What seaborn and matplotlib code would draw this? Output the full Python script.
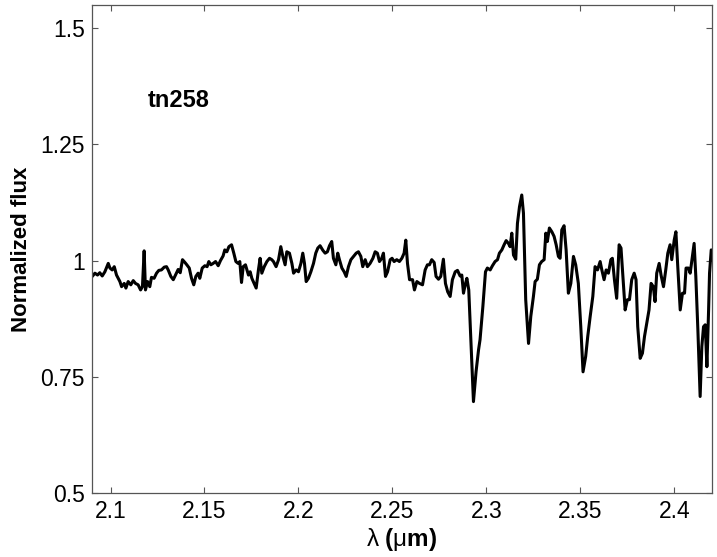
import matplotlib
matplotlib.use("Agg")
import matplotlib.pyplot as plt
import seaborn as sns
import pandas as pd

# ---- data ----
wl_a = [2.0903, 2.0917, 2.0931, 2.0943, 2.0956, 2.0970, 2.0988, 2.0997, 2.1009, 2.1020,
        2.1032, 2.1050, 2.1059, 2.1073, 2.1082, 2.1094, 2.1108, 2.1121, 2.1133, 2.1147,
        2.1160, 2.1170, 2.1179, 2.1186, 2.1197, 2.1209, 2.1218, 2.1232, 2.1245, 2.1257,
        2.1271, 2.1286, 2.1298, 2.1307, 2.1321, 2.1334, 2.1346, 2.1360, 2.1371, 2.1383,
        2.1396, 2.1406, 2.1419, 2.1431, 2.1443, 2.1454, 2.1466, 2.1475, 2.1488, 2.1502,
        2.1514, 2.1523, 2.1534, 2.1546, 2.1559, 2.1573, 2.1585, 2.1599, 2.1608, 2.1619,
        2.1630, 2.1644, 2.1656, 2.1667, 2.1679, 2.1688, 2.1697, 2.1706, 2.1718, 2.1729]
flux_a = [0.966, 0.973, 0.969, 0.974, 0.967, 0.976, 0.994, 0.984, 0.980, 0.987,
          0.969, 0.955, 0.944, 0.951, 0.941, 0.955, 0.948, 0.957, 0.951, 0.948,
          0.937, 0.944, 1.021, 0.937, 0.955, 0.944, 0.964, 0.962, 0.973, 0.979,
          0.980, 0.986, 0.987, 0.980, 0.966, 0.959, 0.969, 0.981, 0.974, 1.002,
          0.996, 0.991, 0.984, 0.962, 0.948, 0.966, 0.973, 0.962, 0.984, 0.989,
          0.987, 0.998, 0.991, 0.994, 0.998, 0.989, 1.000, 1.010, 1.023, 1.019,
          1.030, 1.034, 1.016, 0.998, 0.994, 0.998, 0.953, 0.987, 0.991, 0.976]

wl_b = [2.1734, 2.1743, 2.1752, 2.1764, 2.1775, 2.1787, 2.1796, 2.1805, 2.1818, 2.1832,
        2.1846, 2.1858, 2.1867, 2.1881, 2.1894, 2.1906, 2.1917, 2.1929, 2.1938, 2.1952,
        2.1965, 2.1974, 2.1988, 2.2000, 2.2013, 2.2023, 2.2032, 2.2041, 2.2053, 2.2066,
        2.2080, 2.2092, 2.2103, 2.2115, 2.2130, 2.2142, 2.2154, 2.2165, 2.2177, 2.2186,
        2.2199, 2.2209, 2.2218, 2.2231, 2.2243, 2.2254, 2.2266, 2.2279, 2.2293, 2.2307,
        2.2319, 2.2332, 2.2342, 2.2355, 2.2367, 2.2381, 2.2396, 2.2408, 2.2420, 2.2431,
        2.2443, 2.2452, 2.2463, 2.2474, 2.2488, 2.2498, 2.2509, 2.2523, 2.2537, 2.2550,
        2.2562, 2.2571, 2.2580, 2.2591]
flux_b = [0.969, 0.976, 0.962, 0.951, 0.941, 0.980, 1.005, 0.973, 0.987, 0.998,
          1.005, 1.002, 0.998, 0.987, 1.002, 1.030, 1.009, 0.991, 1.019, 1.016,
          0.994, 0.973, 0.980, 0.976, 0.994, 1.016, 0.994, 0.955, 0.962, 0.976,
          0.994, 1.016, 1.027, 1.032, 1.022, 1.016, 1.019, 1.032, 1.041, 1.005,
          0.991, 1.016, 1.002, 0.984, 0.976, 0.966, 0.987, 1.002, 1.009, 1.016,
          1.019, 1.009, 0.987, 1.002, 0.987, 0.994, 1.005, 1.019, 1.016, 0.998,
          1.005, 1.016, 0.966, 0.976, 1.002, 1.005, 0.998, 1.002, 0.998, 1.005,
          1.016, 1.044, 0.994, 0.959]

wl_c = [2.2607, 2.2617, 2.2630, 2.2644, 2.2660, 2.2674, 2.2686, 2.2697, 2.2709, 2.2722,
        2.2732, 2.2745, 2.2757, 2.2771, 2.2782, 2.2794, 2.2807, 2.2819, 2.2834, 2.2846,
        2.2860, 2.2869, 2.2878, 2.2887, 2.2896, 2.2906, 2.2919, 2.2931, 2.2945, 2.2958,
        2.2966, 2.2981, 2.2995, 2.3005, 2.3020, 2.3032, 2.3046, 2.3059, 2.3069, 2.3082,
        2.3094, 2.3105, 2.3117, 2.3126, 2.3135, 2.3144, 2.3156, 2.3165, 2.3176, 2.3188,
        2.3197, 2.3209, 2.3224, 2.3236, 2.3250, 2.3259, 2.3271, 2.3282, 2.3294, 2.3307,
        2.3316, 2.3324, 2.3335, 2.3348, 2.3360, 2.3371, 2.3383, 2.3392]
flux_c = [0.959, 0.937, 0.955, 0.951, 0.948, 0.980, 0.991, 0.991, 1.002, 0.996,
          0.966, 0.960, 0.966, 1.003, 0.951, 0.933, 0.923, 0.959, 0.976, 0.979,
          0.967, 0.969, 0.930, 0.948, 0.962, 0.937, 0.815, 0.697, 0.762, 0.808,
          0.830, 0.901, 0.976, 0.984, 0.980, 0.989, 0.998, 1.002, 1.016, 1.023,
          1.034, 1.043, 1.037, 1.030, 1.059, 1.012, 1.003, 1.080, 1.116, 1.141,
          1.102, 0.916, 0.822, 0.880, 0.923, 0.955, 0.960, 0.991, 0.998, 1.002,
          1.059, 1.041, 1.070, 1.062, 1.052, 1.034, 1.009, 1.005]

wl_d = [2.3401, 2.3413, 2.3424, 2.3436, 2.3449, 2.3463, 2.3475, 2.3489, 2.3502, 2.3514,
        2.3528, 2.3539, 2.3552, 2.3566, 2.3578, 2.3591, 2.3605, 2.3614, 2.3626, 2.3637,
        2.3649, 2.3662, 2.3670, 2.3681, 2.3693, 2.3706, 2.3716, 2.3725, 2.3738, 2.3750,
        2.3761, 2.3773, 2.3786, 2.3796, 2.3805, 2.3818, 2.3830, 2.3841, 2.3853, 2.3865,
        2.3876, 2.3888, 2.3897, 2.3906, 2.3919, 2.3929, 2.3942, 2.3954, 2.3965, 2.3977,
        2.3986, 2.3999, 2.4008, 2.4018, 2.4031, 2.4043, 2.4054, 2.4062, 2.4075, 2.4084,
        2.4096, 2.4105, 2.4114, 2.4125, 2.4137, 2.4146, 2.4155, 2.4164, 2.4173, 2.4182,
        2.4187, 2.4196]
flux_d = [1.066, 1.075, 1.023, 0.930, 0.951, 1.009, 0.991, 0.951, 0.858, 0.761,
          0.794, 0.837, 0.880, 0.923, 0.987, 0.980, 0.998, 0.980, 0.959, 0.980,
          0.973, 1.002, 1.005, 0.959, 0.919, 1.034, 1.027, 0.973, 0.894, 0.916,
          0.916, 0.959, 0.973, 0.959, 0.858, 0.790, 0.801, 0.837, 0.865, 0.894,
          0.951, 0.944, 0.912, 0.973, 0.994, 0.969, 0.944, 0.980, 1.016, 1.034,
          1.002, 1.044, 1.062, 0.987, 0.894, 0.930, 0.930, 0.984, 0.984, 0.973,
          1.009, 1.037, 0.966, 0.851, 0.708, 0.815, 0.858, 0.862, 0.772, 0.894,
          0.973, 1.023]

x_ticks = [2.1, 2.15, 2.2, 2.25, 2.3, 2.35, 2.4]
x_tick_labels = ["2.1", "2.15", "2.2", "2.25", "2.3", "2.35", "2.4"]
y_ticks = [0.5, 0.75, 1.0, 1.25, 1.5]
y_tick_labels = ["0.5", "0.75", "1", "1.25", "1.5"]
x_limits = (2.09, 2.42)
y_limits = (0.5, 1.55)
object_name = "tn258"

# ---- plotting ----
df = pd.DataFrame({
    "wavelength": wl_a + wl_b + wl_c + wl_d,
    "flux": flux_a + flux_b + flux_c + flux_d,
})

sns.set_style("white")
plt.rcParams["font.family"] = ["Liberation Sans", "DejaVu Sans"]
plt.rcParams["text.color"] = "black"
plt.rcParams["axes.labelcolor"] = "black"
plt.rcParams["mathtext.fontset"] = "custom"
plt.rcParams["mathtext.rm"] = "Liberation Sans"
plt.rcParams["mathtext.it"] = "Liberation Sans:italic"
plt.rcParams["mathtext.bf"] = "Liberation Sans:bold"

fig = plt.figure(figsize=(7.17, 5.57), dpi=100)
ax = fig.add_axes([0.1279, 0.1144, 0.8651, 0.8772])

sns.lineplot(data=df, x="wavelength", y="flux", sort=False, estimator=None,
             color="black", linewidth=2.2, ax=ax)

ax.set_xlim(*x_limits)
ax.set_ylim(*y_limits)
ax.set_xticks(x_ticks)
ax.set_xticklabels(x_tick_labels)
ax.set_yticks(y_ticks)
ax.set_yticklabels(y_tick_labels)

spine_color = "#555555"
for s in ax.spines.values():
    s.set_visible(True)
    s.set_color(spine_color)
    s.set_linewidth(0.9)

ax.tick_params(axis="both", which="major", direction="in", length=4,
               width=0.8, color=spine_color, labelsize=16.5, labelcolor="black",
               top=True, right=True, bottom=True, left=True, pad=5)

ax.set_xlabel(r"$\mathrm{\lambda}$ ($\mathrm{\mu}$m)", fontsize=17.5,
              fontweight="bold", labelpad=2, color="black")
ax.set_ylabel("Normalized flux", fontsize=16, fontweight="bold", labelpad=6,
              color="black")

ax.text(2.12, 1.33, object_name, fontsize=17, fontweight="bold",
        color="black", ha="left", va="baseline")

fig.savefig("out.png", dpi=100)
